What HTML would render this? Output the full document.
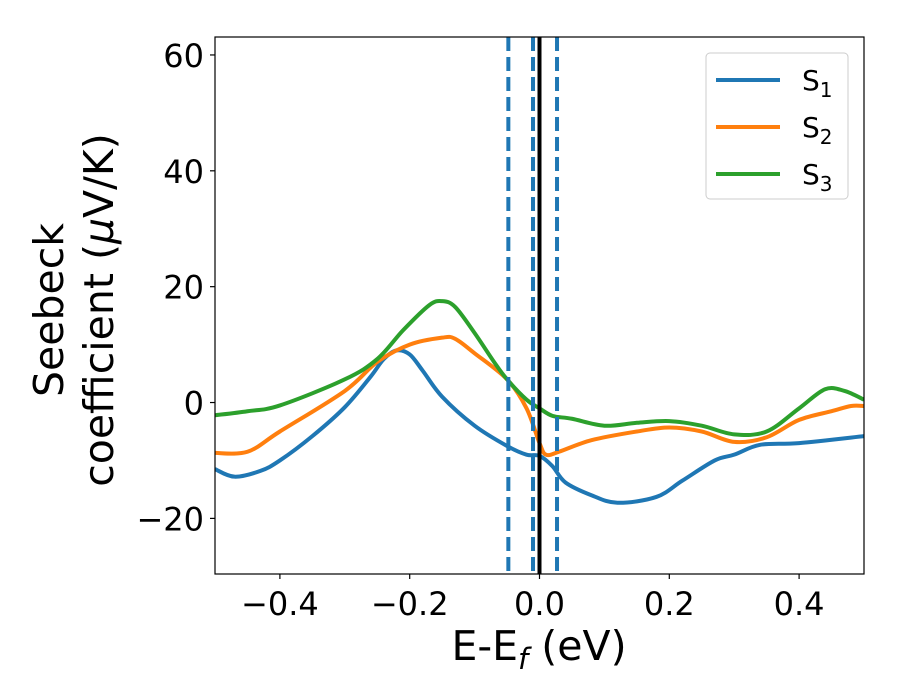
<!DOCTYPE html>
<html><head><meta charset="utf-8"><style>
html,body{margin:0;padding:0;background:#fff}
svg text{font-family:"DejaVu Sans","Liberation Sans",sans-serif;fill:#000}
</style></head><body>
<svg id="chart" width="900" height="700" viewBox="0 0 900 700" xmlns="http://www.w3.org/2000/svg" style="position:absolute;left:0;top:0">
<g id="plot"></g>
</svg>
<script>
const xs1=[-0.5,-0.47,-0.43,-0.4,-0.35,-0.3,-0.26,-0.24,-0.22,-0.2,-0.18,-0.15,-0.1,-0.05,-0.02,0,0.02,0.04,0.08,0.12,0.18,0.22,0.27,0.3,0.34,0.4,0.5];
const s1=[-11.5,-12.8,-11.8,-10,-5.8,-0.8,4.5,7.5,9,8.3,5.5,1,-4,-7.5,-9,-9.2,-11,-13.8,-16,-17.3,-16.3,-13.5,-10,-9,-7.3,-7,-5.8];
const xs2=[-0.5,-0.45,-0.4,-0.3,-0.25,-0.2,-0.15,-0.13,-0.1,-0.05,-0.02,0,0.01,0.03,0.08,0.15,0.2,0.25,0.3,0.35,0.4,0.45,0.48,0.5];
const s2=[-8.7,-8.5,-5,2,7,10,11.2,11,8.5,4,-1,-7,-9,-8.5,-6.5,-5,-4.3,-5,-6.8,-6,-3,-1.5,-0.6,-0.6];
const xs3=[-0.5,-0.45,-0.4,-0.3,-0.25,-0.21,-0.17,-0.15,-0.13,-0.1,-0.07,-0.05,-0.02,0,0.02,0.05,0.1,0.15,0.2,0.25,0.3,0.35,0.4,0.44,0.47,0.5];
const s3=[-2.2,-1.5,-0.5,4,7.5,12.5,16.8,17.5,16.5,12,7,4,0.5,-1,-2.3,-2.8,-4,-3.5,-3.2,-4,-5.5,-5,-1,2.3,2,0.5];
const xTicks=[-0.4,-0.2,0.0,0.2,0.4];
const xTickLabels=["\u22120.4","\u22120.2","0.0","0.2","0.4"];
const yTicks=[-20,0,20,40,60];
const yTickLabels=["\u221220","0","20","40","60"];
const vDashed=[-0.048,-0.01,0.027];
const seriesNames=["S1","S2","S3"];

const L=215,R=864,T=37,B=574,XMIN=-0.5,XMAX=0.5,YMIN=-29.6,YMAX=63.1;
const X=v=>L+(v-XMIN)/(XMAX-XMIN)*(R-L);
const Y=v=>B-(v-YMIN)/(YMAX-YMIN)*(B-T);
const NS="http://www.w3.org/2000/svg";
const g=document.getElementById('plot');
function mk(tag,attrs,parent){const e=document.createElementNS(NS,tag);for(const k in attrs)e.setAttribute(k,attrs[k]);(parent||g).appendChild(e);return e;}
function smooth(pts){let d=`M${pts[0][0]},${pts[0][1]}`;for(let i=0;i<pts.length-1;i++){const p0=pts[Math.max(0,i-1)],p1=pts[i],p2=pts[i+1],p3=pts[Math.min(pts.length-1,i+2)];const c1=[p1[0]+(p2[0]-p0[0])/6,p1[1]+(p2[1]-p0[1])/6],c2=[p2[0]-(p3[0]-p1[0])/6,p2[1]-(p3[1]-p1[1])/6];d+=` C${c1[0]},${c1[1]} ${c2[0]},${c2[1]} ${p2[0]},${p2[1]}`;}return d;}
const cp=mk('clipPath',{id:'clip'});
mk('rect',{x:L,y:T,width:R-L,height:B-T},cp);
const colors=["#1f77b4","#ff7f0e","#2ca02c"];
const data=[[xs1,s1],[xs2,s2],[xs3,s3]];
const lines=mk('g',{'clip-path':'url(#clip)'});


data.forEach((d,i)=>{const p=mk('path',{d:smooth(d[0].map((x,j)=>[X(x),Y(d[1][j])])),fill:'none',stroke:colors[i],'stroke-width':4,'stroke-linejoin':'round'},lines);

});
vDashed.forEach(v=>{const l=mk('line',{x1:X(v),x2:X(v),y1:T,y2:B,stroke:'#1f77b4','stroke-width':4,'stroke-dasharray':'14,6'});

});
const fl=mk('line',{x1:X(0),x2:X(0),y1:T,y2:B,stroke:'#000','stroke-width':4});


const fr=mk('rect',{x:L,y:T,width:R-L,height:B-T,fill:'none',stroke:'#000','stroke-width':1.2});


xTicks.forEach((v,i)=>{mk('line',{x1:X(v),x2:X(v),y1:B,y2:B+5,stroke:'#000','stroke-width':1.2});
const t=mk('text',{x:X(v),y:B+41,'font-size':32,'text-anchor':'middle'});t.textContent=xTickLabels[i];

});
yTicks.forEach((v,i)=>{mk('line',{x1:L-5,x2:L,y1:Y(v),y2:Y(v),stroke:'#000','stroke-width':1.2});
const t=mk('text',{x:L-11,y:Y(v)+12,'font-size':32,'text-anchor':'end'});t.textContent=yTickLabels[i];

});
</script>
<svg style="position:absolute;left:0;top:0" width="900" height="700">
<text x="539" y="660" font-size="41" text-anchor="middle">E-E<tspan font-size="29" dy="9" font-style="italic">f</tspan><tspan dy="-9"> (eV)</tspan></text>
<g transform="translate(63,310) rotate(-90)">
<text x="0" y="0" font-size="41" text-anchor="middle">Seebeck</text>
<text x="0" y="50" font-size="41" text-anchor="middle">coefficient  (<tspan font-style="italic">μ</tspan>V/K)</text>
</g>
<g>
<rect x="706" y="53" width="142" height="146" rx="4" fill="#fff" stroke="#ccc" stroke-width="1"/>
<line x1="716" x2="780" y1="80" y2="80" stroke="#1f77b4" stroke-width="4"/>
<text x="802" y="90" font-size="28">S<tspan font-size="20" dy="7">1</tspan></text>
<line x1="716" x2="780" y1="127" y2="127" stroke="#ff7f0e" stroke-width="4"/>
<text x="802" y="137" font-size="28">S<tspan font-size="20" dy="7">2</tspan></text>
<line x1="716" x2="780" y1="174" y2="174" stroke="#2ca02c" stroke-width="4"/>
<text x="802" y="184" font-size="28">S<tspan font-size="20" dy="7">3</tspan></text>
</g>
</svg>
</body></html>
